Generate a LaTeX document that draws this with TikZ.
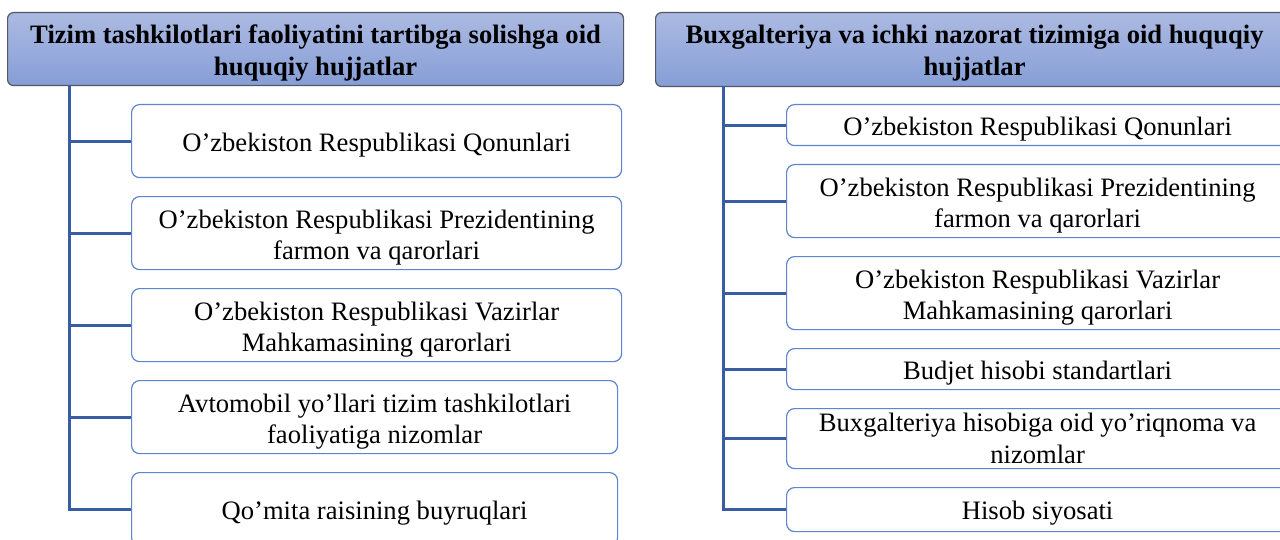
\documentclass[tikz,border=0pt]{standalone}
\usepackage{fontspec}
\setmainfont{Liberation Serif}
\usetikzlibrary{positioning}
\definecolor{hdrtop}{RGB}{172,186,226}
\definecolor{hdrbot}{RGB}{134,158,214}
\definecolor{hdrline}{RGB}{85,88,100}
\definecolor{itemline}{RGB}{91,133,207}
\definecolor{linkblue}{RGB}{58,92,162}
\begin{document}
\begin{tikzpicture}[x=0.5pt, y=-0.5pt, node distance=8.9pt,
    hdr/.style={draw=hdrline, line width=0.6pt, rounded corners=3pt,
      top color=hdrtop, bottom color=hdrbot, align=center,
      font=\fontsize{13.3}{16}\selectfont\bfseries, inner sep=0pt,
      minimum height=36.5pt, text height=29pt, anchor=north west},
    item/.style={draw=itemline, line width=0.6pt, rounded corners=4pt,
      fill=white, align=center, font=\fontsize{13.3}{15.8}\selectfont,
      inner sep=0pt, minimum width=245pt, minimum height=36.5pt,
      text height=13pt},
    twoline/.style={text height=29.4pt},
    ritem/.style={item, minimum width=251pt},
    link/.style={draw=linkblue, line width=1.5pt}]
  \path[use as bounding box] (0,0) rectangle (1280,540);
  \clip (0,0) rectangle (1280,540);

  % left tree
  \node[hdr, minimum width=308pt] (hL) at (7,12)
    {Tizim tashkilotlari faoliyatini tartibga solishga oid\\ huquqiy hujjatlar};
  \node[item, anchor=north west] (l1) at (131,104) {O’zbekiston Respublikasi Qonunlari};
  \node[item, twoline, below=of l1.south west, anchor=north west] (l2)
    {O’zbekiston Respublikasi Prezidentining\\ farmon va qarorlari};
  \node[item, twoline, below=of l2.south west, anchor=north west] (l3)
    {O’zbekiston Respublikasi Vazirlar\\ Mahkamasining qarorlari};
  \node[item, twoline, below=of l3.south west, anchor=north west, minimum width=243pt] (l4)
    {Avtomobil yo’llari tizim tashkilotlari\\ faoliyatiga nizomlar};
  \node[item, below=of l4.south west, anchor=north west, minimum width=243pt] (l5)
    {Qo’mita raisining buyruqlari};

  \coordinate (sL) at (69,85);
  \draw[link] (sL) |- (l5.west);
  \foreach \i in {1,...,4}
    \draw[link] (sL |- l\i.west) -- (l\i.west);

  % right tree
  \node[hdr, minimum width=319pt, minimum height=37pt] (hR) at (655,12)
    {Buxgalteriya va ichki nazorat tizimiga oid huquqiy\\ hujjatlar};
  \node[ritem, anchor=north west, minimum height=20.5pt] (r1) at (786,104)
    {O’zbekiston Respublikasi Qonunlari};
  \node[ritem, twoline, below=of r1.south west, anchor=north west] (r2)
    {O’zbekiston Respublikasi Prezidentining\\ farmon va qarorlari};
  \node[ritem, twoline, below=of r2.south west, anchor=north west] (r3)
    {O’zbekiston Respublikasi Vazirlar\\ Mahkamasining qarorlari};
  \node[ritem, below=of r3.south west, anchor=north west, minimum height=20.5pt] (r4)
    {Budjet hisobi standartlari};
  \node[ritem, below=of r4.south west, anchor=north west, minimum height=30pt,
    text height=25pt] (r5)
    {Buxgalteriya hisobiga oid yo’riqnoma va\\ nizomlar};
  \node[ritem, below=of r5.south west, anchor=north west, minimum height=22pt] (r6)
    {Hisob siyosati};

  \coordinate (sR) at (723,86);
  \draw[link] (sR) |- (r6.west);
  \foreach \i in {1,...,5}
    \draw[link] (sR |- r\i.west) -- (r\i.west);
\end{tikzpicture}
\end{document}
